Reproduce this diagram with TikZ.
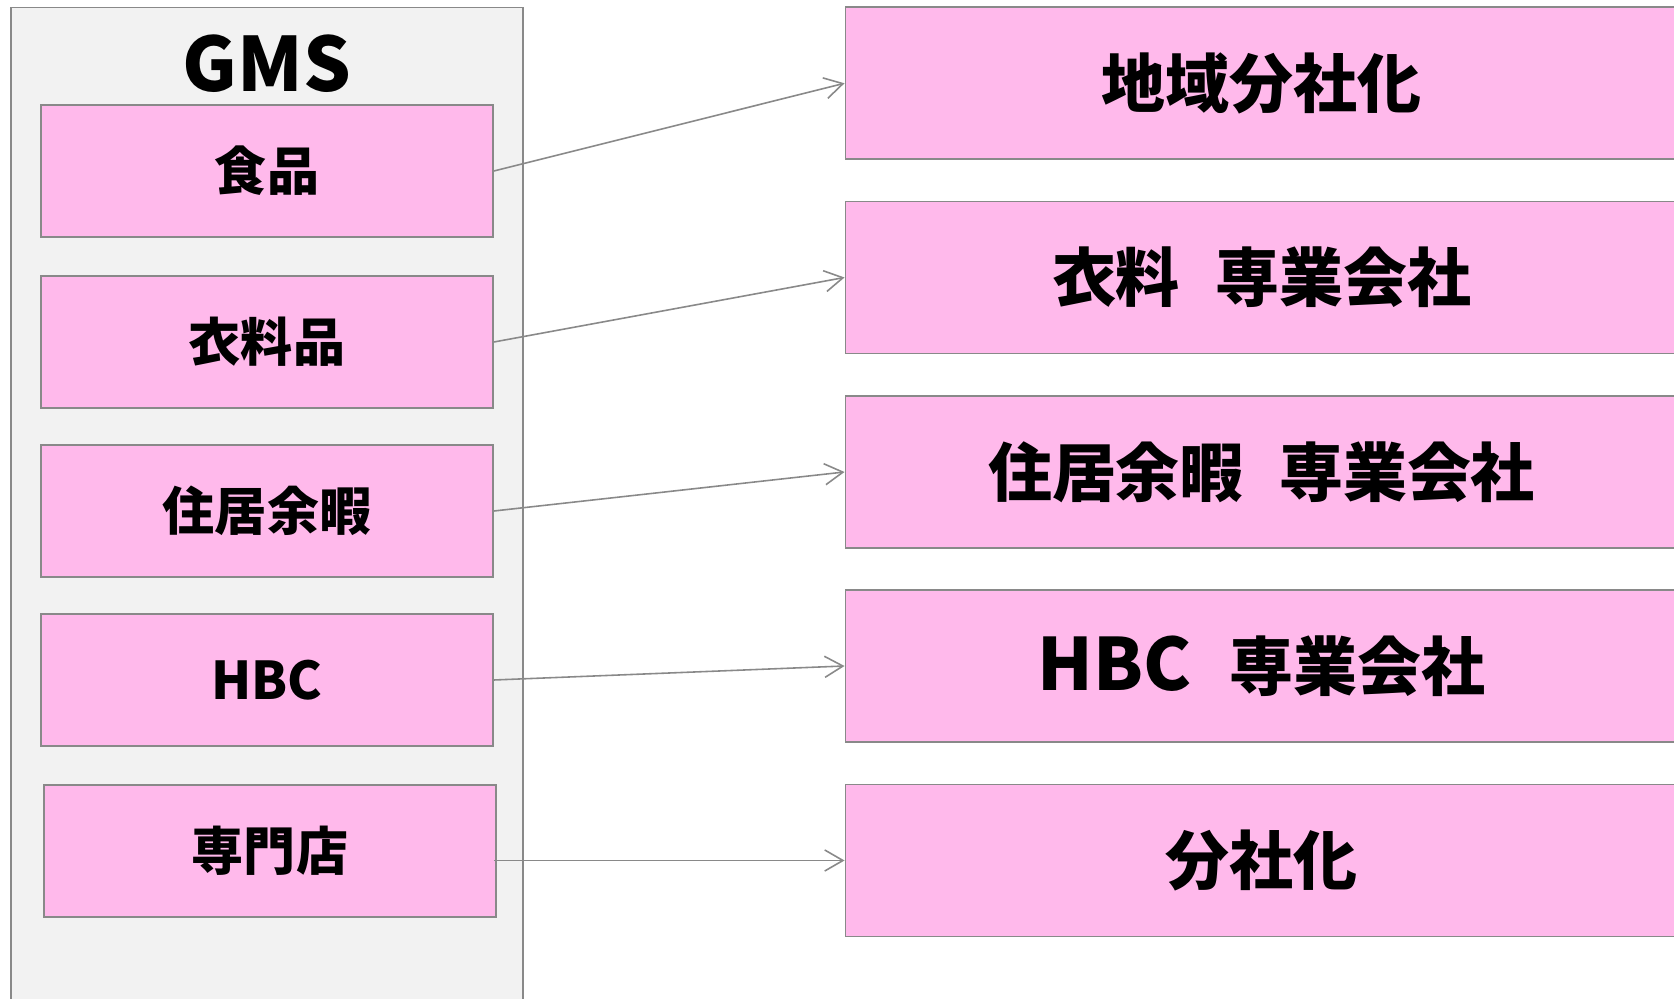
\documentclass[tikz,border=0pt]{standalone}
\usepackage{fontspec}
\setmainfont{Noto Sans CJK JP}
\usetikzlibrary{arrows.meta}

\definecolor{boxpink}{RGB}{255,185,235}
\definecolor{boxline}{RGB}{137,137,137}
\definecolor{panelgray}{RGB}{242,242,242}

\begin{document}
\begin{tikzpicture}[
	lbox/.style={draw=boxline, line width=0.55pt, fill=boxpink, minimum width=4.52cm, minimum height=1.32cm, font=\bfseries\fontsize{14.8}{16}\selectfont},
	rbox/.style={draw=boxline, line width=0.55pt, fill=boxpink, minimum width=8.32cm, minimum height=1.52cm, font=\bfseries\fontsize{18.2}{20}\selectfont},
	conn/.style={draw=boxline, line width=0.45pt, -{Straight Barb[length=5.2pt, width=6pt]}}
	]
		\clip (0,0) rectangle (16.74,9.99);
		\fill[white] (0,0) rectangle (16.74,9.99);
		
		\draw[boxline, line width=0.55pt, fill=panelgray] (0.107,-0.3) rectangle (5.23,9.915);
		\node at (2.67, 9.35)   (gms) {\bfseries\fontsize{21.3}{23}\selectfont GMS};
		
		\node[lbox] at (2.67, 8.28)   (food) {食品};
		\node[lbox] at (2.67, 6.57)   (cloth) {衣料品};
		\node[lbox] at (2.67, 4.88)   (living) {住居余暇};
		\node[lbox] at (2.67, 3.19)   (hbc) {HBC};
		\node[lbox] at (2.70, 1.48)   (shop) {専門店};
		
		\node[rbox] at (12.615, 9.157)   (region) {地域分社化};
		\node[rbox] at (12.615, 7.215)   (clothco) {衣料\hspace{0.55em}専業会社};
		\node[rbox] at (12.615, 5.27)   (livingco) {住居余暇\hspace{0.55em}専業会社};
		\node[rbox] at (12.615, 3.33)   (hbcco) {{\fontsize{20.5}{22}\selectfont HBC}\hspace{0.6em}専業会社};
		\node[rbox] at (12.615, 1.385)   (split) {分社化};
		
		\foreach \a/\b in {food/region, cloth/clothco, living/livingco, hbc/hbcco}
		\draw[conn] (\a.east) -- (\b.west);
		\draw[conn] (hbc.east |- split.west) -- (split.west);
	\end{tikzpicture}
\end{document}
